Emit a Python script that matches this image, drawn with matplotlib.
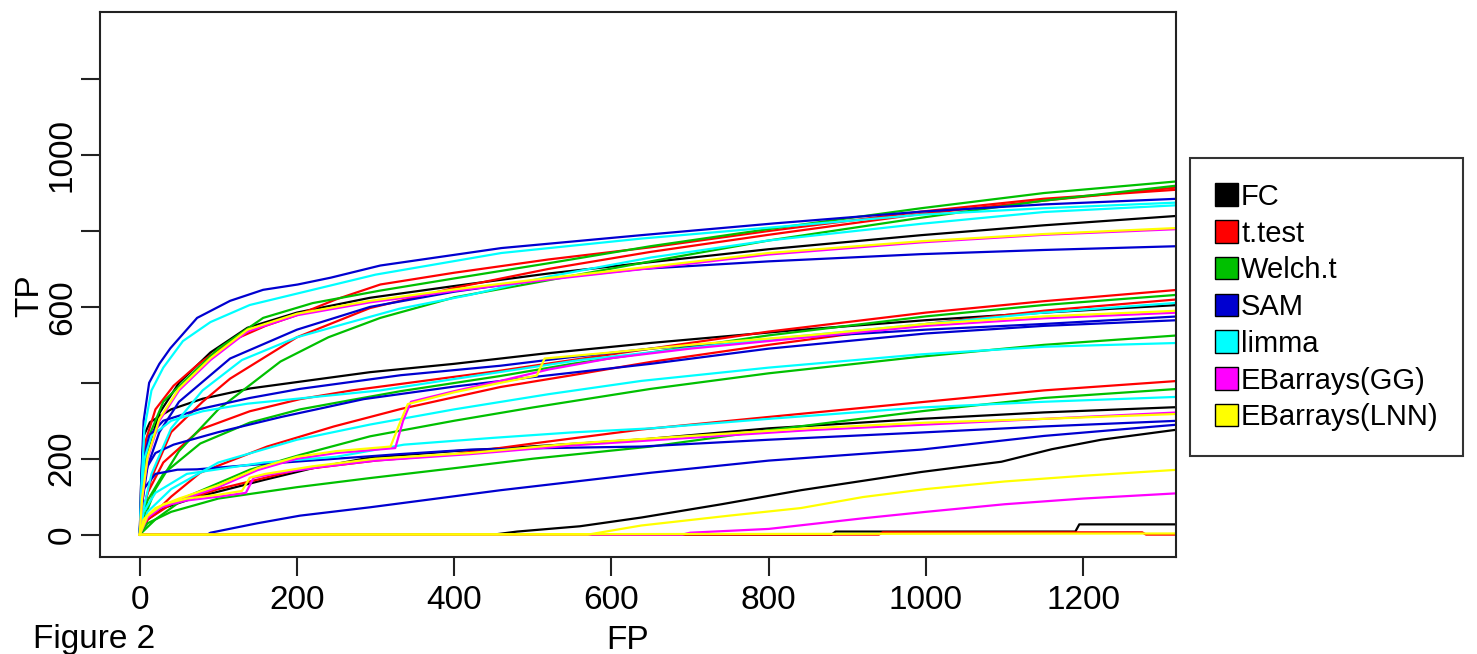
import matplotlib
matplotlib.use('Agg')
import matplotlib.pyplot as plt
from matplotlib.patches import Patch

plt.rcParams['font.family'] = ['Liberation Sans', 'DejaVu Sans']

methods = ['FC', 't.test', 'Welch.t', 'SAM', 'limma', 'EBarrays(GG)', 'EBarrays(LNN)']
colors = ['black', '#ff0000', '#00c000', '#0000d0', '#00ffff', '#ff00ff', '#ffff00']

x_ticks = [0, 200, 400, 600, 800, 1000, 1200]
y_ticks = [0, 200, 400, 600, 800, 1000, 1200]
y_tick_labels = ['0', '200', '', '600', '', '1000', '']

# (FP, TP) points, one list per curve
fc_curves = [
    [(0, 0), (3, 100), (10, 220), (25, 320), (50, 400), (90, 480), (137, 545), (200, 585), (293, 624), (400, 655),
     (520, 688), (650, 718), (800, 752), (994, 789), (1150, 815), (1321, 840)],
    [(0, 0), (2, 150), (5, 260), (13, 296), (40, 330), (80, 358), (140, 385), (204, 403), (293, 428), (400, 450),
     (514, 477), (650, 505), (830, 538), (1000, 565), (1150, 585), (1321, 605)],
    [(0, 0), (10, 40), (30, 70), (73, 99), (158, 144), (220, 175), (293, 203), (400, 220), (520, 235), (640, 251),
     (800, 280), (994, 305), (1150, 322), (1321, 336)],
    [(0, 0), (450, 0), (480, 8), (520, 15), (560, 22), (638, 45), (740, 80), (841, 117), (994, 165), (1096, 192),
     (1160, 225), (1223, 250), (1321, 277)],
    [(0, 0), (880, 0), (885, 8), (1190, 8), (1195, 27), (1321, 27)],
]

t_curves = [
    [(0, 0), (3, 150), (8, 250), (20, 330), (43, 392), (75, 450), (115, 509), (160, 550), (201, 579), (250, 620),
     (306, 659), (400, 690), (520, 725), (650, 757), (800, 800), (994, 851), (1150, 885), (1321, 909)],
    [(0, 0), (4, 60), (15, 150), (40, 270), (80, 350), (115, 411), (200, 520), (293, 597), (400, 650), (520, 700),
     (650, 745), (800, 790), (994, 845), (1150, 880), (1321, 915)],
    [(0, 0), (3, 50), (10, 110), (30, 190), (77, 277), (140, 325), (204, 357), (270, 380), (332, 397), (459, 432),
     (550, 460), (650, 490), (800, 535), (1000, 585), (1150, 615), (1321, 645)],
    [(0, 0), (10, 40), (40, 100), (77, 163), (162, 232), (247, 285), (332, 331), (459, 389), (550, 420), (650, 455),
     (800, 500), (1000, 555), (1150, 590), (1321, 620)],
    [(0, 0), (10, 40), (40, 80), (100, 120), (200, 170), (300, 195), (400, 212), (500, 240), (638, 277), (800, 310),
     (994, 349), (1150, 380), (1321, 405)],
    [(0, 0), (940, 0), (945, 6), (1275, 6), (1280, 0), (1321, 0)],
]

welch_curves = [
    [(0, 0), (3, 120), (12, 260), (30, 350), (60, 411), (100, 490), (157, 571), (220, 610), (306, 643), (400, 675),
     (520, 715), (650, 760), (800, 805), (994, 860), (1150, 900), (1321, 931)],
    [(0, 0), (5, 40), (20, 120), (50, 220), (100, 330), (179, 456), (240, 520), (306, 571), (400, 625), (506, 665),
     (650, 720), (800, 775), (994, 835), (1150, 880), (1321, 920)],
    [(0, 0), (3, 40), (10, 90), (30, 160), (77, 240), (140, 295), (204, 330), (270, 355), (332, 378), (459, 418),
     (550, 450), (650, 480), (800, 525), (1000, 575), (1150, 605), (1321, 632)],
    [(0, 0), (20, 40), (60, 100), (140, 171), (204, 210), (293, 259), (400, 300), (500, 335), (650, 384), (800, 425),
     (994, 469), (1150, 500), (1321, 525)],
    [(0, 0), (10, 30), (40, 60), (100, 95), (200, 125), (293, 149), (400, 175), (500, 200), (650, 232), (800, 275),
     (994, 325), (1150, 360), (1321, 384)],
]

sam_curves = [
    [(0, 0), (2, 150), (5, 300), (12, 400), (25, 450), (39, 491), (73, 571), (115, 616), (157, 645), (201, 659),
     (243, 677), (306, 709), (460, 755), (638, 789), (807, 820), (994, 851), (1150, 870), (1321, 885)],
    [(0, 0), (3, 80), (10, 180), (25, 270), (50, 350), (115, 464), (200, 540), (293, 600), (400, 640), (520, 675),
     (638, 700), (800, 720), (994, 739), (1150, 750), (1321, 760)],
    [(0, 0), (2, 100), (5, 200), (12, 260), (30, 300), (77, 331), (140, 360), (204, 384), (332, 420), (459, 445),
     (550, 468), (650, 490), (800, 515), (1000, 540), (1150, 555), (1321, 575)],
    [(0, 0), (3, 120), (10, 180), (20, 215), (43, 237), (100, 270), (180, 310), (285, 357), (400, 390), (500, 415),
     (650, 450), (800, 490), (1000, 530), (1150, 550), (1321, 565)],
    [(0, 0), (5, 120), (20, 160), (48, 171), (73, 172), (150, 185), (250, 200), (330, 212), (421, 224), (520, 228),
     (638, 232), (800, 250), (994, 269), (1150, 285), (1321, 300)],
    [(86, 0), (90, 5), (150, 30), (204, 50), (293, 72), (459, 117), (650, 163), (800, 195), (994, 224), (1150, 260),
     (1321, 290)],
]

limma_curves = [
    [(0, 0), (2, 120), (6, 280), (15, 380), (30, 440), (55, 510), (90, 560), (140, 605), (200, 635), (300, 685),
     (460, 742), (638, 780), (807, 810), (994, 843), (1150, 860), (1321, 875)],
    [(0, 0), (4, 60), (15, 160), (40, 280), (80, 380), (130, 460), (200, 520), (260, 555), (330, 595), (421, 632),
     (520, 680), (650, 730), (800, 775), (994, 819), (1150, 850), (1321, 868)],
    [(0, 0), (2, 80), (6, 200), (15, 260), (40, 300), (80, 325), (137, 345), (200, 358), (306, 380), (400, 410),
     (470, 432), (560, 460), (650, 480), (800, 515), (1000, 555), (1150, 585), (1321, 611)],
    [(0, 0), (10, 60), (40, 120), (100, 190), (200, 250), (293, 290), (400, 330), (520, 370), (638, 405), (800, 440),
     (994, 475), (1150, 495), (1321, 505)],
    [(0, 0), (5, 60), (20, 110), (60, 160), (158, 190), (250, 205), (336, 237), (450, 255), (548, 269), (650, 280),
     (800, 305), (994, 335), (1150, 350), (1321, 363)],
]

gg_curves = [
    [(0, 0), (3, 90), (10, 200), (25, 300), (50, 380), (90, 460), (137, 535), (200, 578), (293, 612), (400, 642),
     (520, 672), (650, 702), (800, 738), (994, 770), (1150, 790), (1321, 805)],
    [(0, 0), (5, 35), (20, 65), (50, 90), (100, 125), (150, 170), (200, 200), (250, 215), (325, 228), (335, 300),
     (345, 350), (400, 378), (459, 405), (520, 435), (600, 465), (700, 490), (850, 520), (1000, 550), (1150, 570),
     (1321, 585)],
    [(0, 0), (10, 45), (30, 75), (60, 90), (100, 100), (135, 110), (145, 150), (170, 160), (230, 178), (300, 195),
     (420, 212), (550, 235), (700, 255), (850, 275), (1000, 290), (1150, 305), (1321, 322)],
    [(0, 0), (690, 0), (700, 5), (800, 15), (920, 43), (1000, 60), (1100, 80), (1200, 95), (1321, 109)],
]

lnn_curves = [
    [(0, 0), (3, 95), (10, 205), (25, 305), (50, 385), (90, 465), (137, 540), (200, 582), (293, 616), (400, 646),
     (520, 676), (650, 706), (800, 742), (994, 773), (1150, 792), (1321, 808)],
    [(0, 0), (5, 40), (20, 70), (50, 95), (100, 130), (150, 175), (200, 205), (250, 220), (319, 232), (330, 290),
     (341, 344), (400, 375), (459, 400), (505, 419), (515, 464), (600, 480), (700, 500), (850, 525), (1000, 555),
     (1150, 575), (1321, 590)],
    [(0, 0), (10, 50), (30, 80), (60, 95), (100, 105), (130, 115), (140, 150), (160, 160), (220, 180), (300, 200),
     (420, 215), (550, 240), (700, 260), (850, 280), (1000, 295), (1150, 305), (1321, 318)],
    [(0, 0), (570, 0), (638, 24), (750, 50), (841, 70), (920, 99), (1000, 120), (1100, 140), (1200, 155), (1321, 171)],
    [(0, 0), (1321, 3)],
]

all_curves = [fc_curves, t_curves, welch_curves, sam_curves, limma_curves, gg_curves, lnn_curves]

fig = plt.figure(figsize=(14.77, 6.54), dpi=100)
ax = fig.add_axes([100 / 1477, 1 - 557 / 654, 1076 / 1477, 545 / 654])

for curves, col in zip(all_curves, colors):
    for c in curves:
        fp = [p[0] for p in c]
        tp = [p[1] for p in c]
        ax.plot(fp, tp, color=col, lw=1.6)

ax.set_xlim(-50.5, 1318)
ax.set_ylim(-59, 1377)
ax.set_xticks(x_ticks)
ax.set_xticklabels([str(v) for v in x_ticks], fontsize=24)
ax.set_yticks(y_ticks)
ax.set_yticklabels(y_tick_labels, fontsize=24, rotation=90, va='center')
ax.tick_params(direction='out', length=14, width=1.5, color='#222222')
ax.tick_params(axis='x', pad=6)
ax.tick_params(axis='y', pad=2)
for s in ax.spines.values():
    s.set_linewidth(1.5)
    s.set_color('#222222')

ax.set_xlabel('FP', fontsize=24)
ax.xaxis.set_label_coords(0.49, -0.125)
ax.set_ylabel('TP', fontsize=24)
ax.yaxis.set_label_coords(-0.051, 0.48)

handles = [Patch(facecolor=c, edgecolor='black', lw=1) for c in colors]
leg = ax.legend(handles, methods, loc='upper left', bbox_to_anchor=(1190 / 1477, 1 - 158 / 654),
                bbox_transform=fig.transFigure, fontsize=21, frameon=True, fancybox=False,
                edgecolor='black', handlelength=0.8, handleheight=0.8, handletextpad=0.1,
                labelspacing=0.3, borderpad=0.85, borderaxespad=0)
leg.get_frame().set_linewidth(1.5)

fig.text(33 / 1477, 6 / 654, 'Figure 2', fontsize=24, va='baseline', ha='left')

fig.savefig('out.png', dpi=100)
